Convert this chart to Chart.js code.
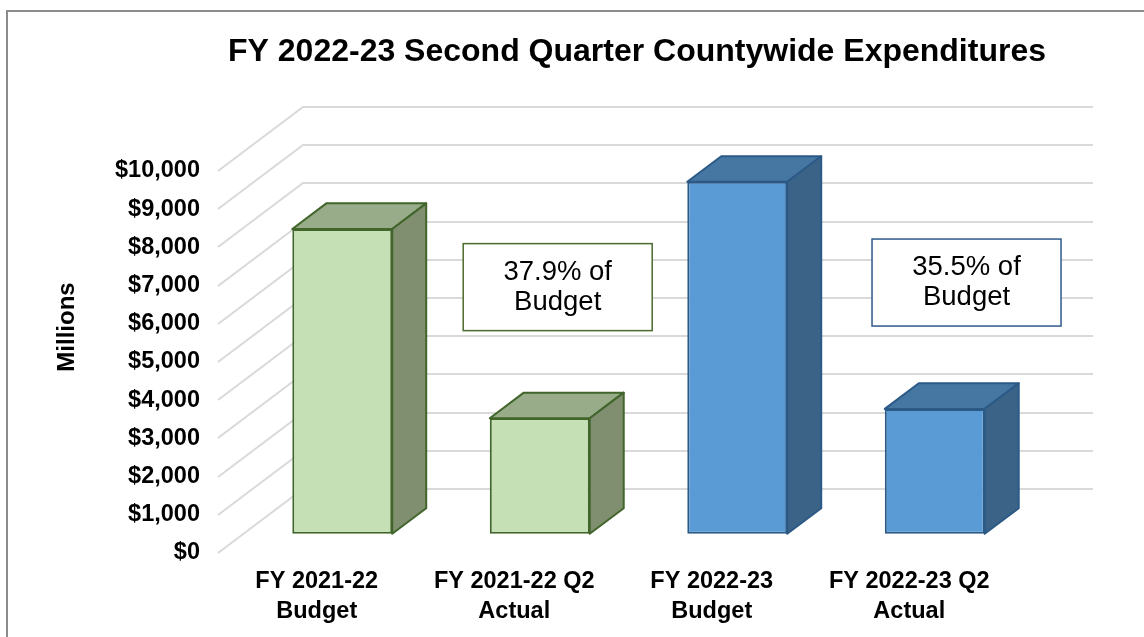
<!DOCTYPE html>
<html><head><meta charset="utf-8">
<script src="https://cdn.jsdelivr.net/npm/chart.js@4.4.0/dist/chart.umd.min.js"></script>
<style>html,body{margin:0;padding:0;background:#fff;} #wrap{width:1144px;height:637px;position:relative;}</style>
</head><body><div id="wrap"><canvas id="c" width="1144" height="637"></canvas></div>
<script>
// ---- data ----
const titleText = 'FY 2022-23 Second Quarter Countywide Expenditures';
const axisTitle = 'Millions';
const categories = [['FY 2021-22','Budget'],['FY 2021-22 Q2','Actual'],['FY 2022-23','Budget'],['FY 2022-23 Q2','Actual']];
const values = [7980, 3025, 9215, 3270];
const yMin = 0, yMax = 10000, yStep = 1000;
const noteText = [['37.9% of','Budget'],['35.5% of','Budget']];
const notePosX = [1.22, 3.29];
const notePosY = [6960, 7080];
// ---- styles ----
const frontColors = ['#c5e0b4','#c5e0b4','#5b9bd5','#5b9bd5'];
const topColors = ['#98ac8a','#98ac8a','#4677a3','#4677a3'];
const sideColors = ['#7f8f70','#7f8f70','#3a6387','#3a6387'];
const edgeColors = ['#41652a','#41652a','#2c5a86','#2c5a86'];
const noteBorder = ['#4a6b2e','#2f5a8a'];
const FONT = '"Liberation Sans", Arial, Helvetica, sans-serif';
const DEPTH = {dx: 85, dy: -64, front: 0.3, back: 0.7};

const threeD = {
  id: 'threeD',
  beforeDraw(chart) {
    const ctx = chart.ctx;
    ctx.save();
    ctx.strokeStyle = '#8c8c8c'; ctx.lineWidth = 2;
    ctx.beginPath(); ctx.moveTo(7, chart.height); ctx.lineTo(7, 11); ctx.lineTo(chart.width, 11); ctx.stroke();
    ctx.restore();
  },
  beforeDatasetsDraw(chart) {
    const {ctx, chartArea: a, scales: {x, y}} = chart;
    ctx.save();
    ctx.strokeStyle = '#d9d9d9'; ctx.lineWidth = 2;
    y.ticks.forEach(t => {
      const py = Math.round(y.getPixelForValue(t.value));
      ctx.beginPath();
      ctx.moveTo(a.left, py);
      ctx.lineTo(a.left + DEPTH.dx, py + DEPTH.dy);
      ctx.lineTo(a.right + DEPTH.dx, py + DEPTH.dy);
      ctx.stroke();
    });
    ctx.translate(DEPTH.dx * DEPTH.front, DEPTH.dy * DEPTH.front);
    const bx = DEPTH.dx * (DEPTH.back - DEPTH.front), by = DEPTH.dy * (DEPTH.back - DEPTH.front);
    const meta = chart.getDatasetMeta(0);
    meta.data.forEach((bar, i) => {
      const p = bar.getProps(['x','y','base','width'], true);
      const l = p.x - p.width / 2, r = p.x + p.width / 2;
      ctx.lineWidth = 2; ctx.lineJoin = 'round'; ctx.strokeStyle = edgeColors[i];
      ctx.beginPath();
      ctx.moveTo(l, p.y); ctx.lineTo(l + bx, p.y + by); ctx.lineTo(r + bx, p.y + by); ctx.lineTo(r, p.y); ctx.closePath();
      ctx.fillStyle = topColors[i]; ctx.fill(); ctx.stroke();
      ctx.beginPath();
      ctx.moveTo(r, p.y); ctx.lineTo(r + bx, p.y + by); ctx.lineTo(r + bx, p.base + by); ctx.lineTo(r, p.base); ctx.closePath();
      ctx.fillStyle = sideColors[i]; ctx.fill(); ctx.stroke();
    });
  },
  afterDatasetsDraw(chart) {
    const {ctx, scales: {x, y}} = chart;
    ctx.restore();
    ctx.save();
    noteText.forEach((lines, k) => {
      const cx = x.getPixelForValue(notePosX[k]), cy = y.getPixelForValue(notePosY[k]);
      const w = 189, h = 87;
      ctx.fillStyle = '#fff';
      ctx.fillRect(cx - w / 2, cy - h / 2, w, h);
      ctx.strokeStyle = noteBorder[k]; ctx.lineWidth = 1.5;
      ctx.strokeRect(cx - w / 2, cy - h / 2, w, h);
      ctx.fillStyle = '#000';
      ctx.font = '27.5px ' + FONT;
      ctx.textAlign = 'center'; ctx.textBaseline = 'middle';
      ctx.fillText(lines[0], cx, cy - 15);
      ctx.fillText(lines[1], cx, cy + 15);
    });
    ctx.restore();
  },
  afterDraw(chart) {
    const ctx = chart.ctx;
    ctx.save();
    ctx.fillStyle = '#000';
    ctx.font = 'bold 32px ' + FONT;
    ctx.textAlign = 'center'; ctx.textBaseline = 'alphabetic';
    ctx.fillText(titleText, 637, 61);
    ctx.translate(67, 327);
    ctx.rotate(-Math.PI / 2);
    ctx.font = 'bold 24px ' + FONT;
    ctx.textBaseline = 'middle';
    ctx.fillText(axisTitle, 0, 0);
    ctx.restore();
  }
};

new Chart(document.getElementById('c'), {
  type: 'bar',
  data: {
    labels: categories,
    datasets: [{
      data: values,
      backgroundColor: frontColors,
      borderColor: edgeColors,
      borderWidth: 2,
      borderSkipped: false,
      barPercentage: 0.506,
      categoryPercentage: 1,
      clip: false
    }]
  },
  options: {
    responsive: false,
    animation: false,
    devicePixelRatio: 1,
    layout: { padding: { top: 171, right: 136, bottom: 0, left: 0 } },
    plugins: { legend: { display: false }, tooltip: { enabled: false }, title: { display: false } },
    scales: {
      x: {
        grid: { display: false, drawTicks: false },
        border: { display: false },
        ticks: { color: '#000', font: { family: FONT, size: 23.5, weight: 'bold', lineHeight: 1.25 }, padding: 14, maxRotation: 0, autoSkip: false },
        afterFit: s => { s.height = 84; }
      },
      y: {
        min: yMin, max: yMax,
        grid: { display: false, drawTicks: false },
        border: { display: false },
        ticks: { stepSize: yStep, color: '#000', padding: 18, font: { family: FONT, size: 23.5, weight: 'bold' },
          callback: v => '$' + v.toLocaleString('en-US') },
        afterFit: s => { s.width = 218; }
      }
    }
  },
  plugins: [threeD]
});
</script></body></html>
